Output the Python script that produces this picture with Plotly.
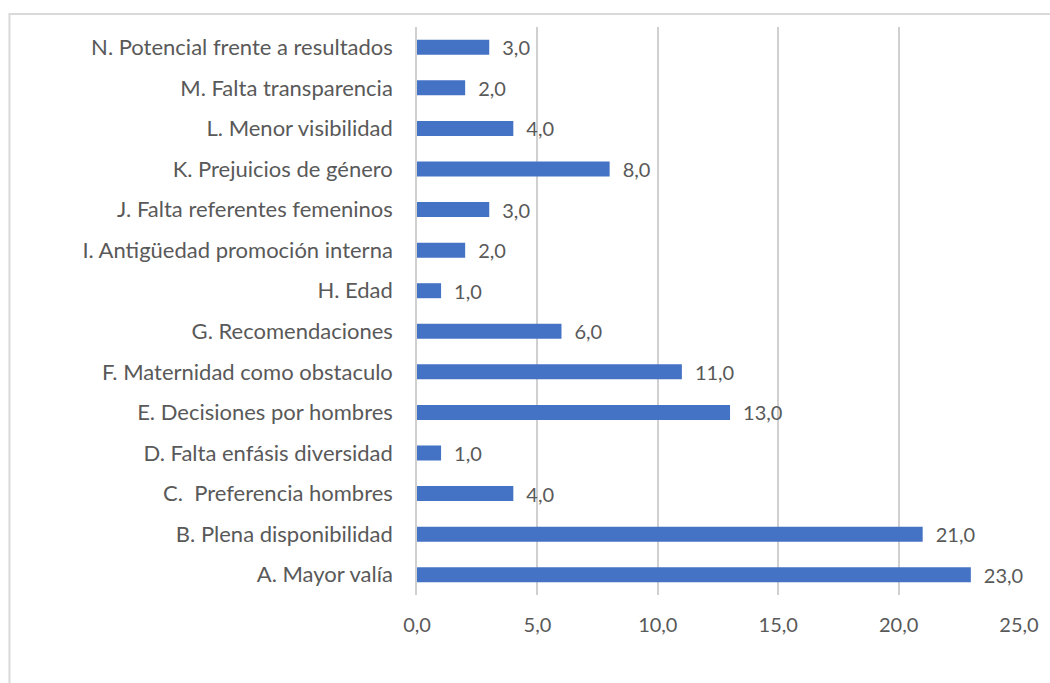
import plotly.graph_objects as go

categories = [
    "A. Mayor valía",
    "B. Plena disponibilidad",
    "C.  Preferencia hombres",
    "D. Falta enfásis diversidad",
    "E. Decisiones por hombres",
    "F. Maternidad como obstaculo",
    "G. Recomendaciones",
    "H. Edad",
    "I. Antigüedad promoción interna",
    "J. Falta referentes femeninos",
    "K. Prejuicios de género",
    "L. Menor visibilidad",
    "M. Falta transparencia",
    "N. Potencial frente a resultados",
]
values = [23, 21, 4, 1, 13, 11, 6, 1, 2, 3, 8, 4, 2, 3]
tick_vals = [0, 5, 10, 15, 20, 25]

FONT = "Lato"
GREY = "#595959"

fig = go.Figure(
    go.Bar(
        y=categories,
        x=values,
        orientation="h",
        marker=dict(color="#4472C4", line=dict(width=0)),
        text=["\u2002" + f"{v:.1f}".replace(".", ",") for v in values],
        textposition="outside",
        constraintext="none",
        textfont=dict(family=FONT, size=20, color=GREY),
        cliponaxis=False,
    )
)

fig.update_layout(
    width=1050,
    height=683,
    margin=dict(l=417, r=31, t=27, b=88),
    paper_bgcolor="white",
    plot_bgcolor="white",
    bargap=0.63,
    showlegend=False,
    separators=",.",
    font=dict(family=FONT, size=20, color=GREY),
    xaxis=dict(
        range=[0, 25],
        tickvals=tick_vals,
        ticktext=[f"{v:.1f}".replace(".", ",") for v in tick_vals],
        showgrid=True,
        gridcolor="#d0d0d0",
        gridwidth=1.5,
        zeroline=False,
        showline=False,
        ticks="",
        ticklabelstandoff=16,
        tickfont=dict(family=FONT, size=20, color=GREY),
        fixedrange=True,
    ),
    yaxis=dict(
        categoryorder="array",
        categoryarray=categories,
        showgrid=False,
        zeroline=False,
        showline=True,
        linecolor="#d0d0d0",
        linewidth=1.5,
        ticks="",
        ticklabelstandoff=18,
        tickfont=dict(family=FONT, size=22, color=GREY),
        fixedrange=True,
    ),
    shapes=[
        dict(
            type="rect",
            xref="paper",
            yref="paper",
            x0=-0.677,
            x1=1.2,
            y0=-0.3,
            y1=1.023,
            line=dict(color="#d9d9d9", width=2),
            fillcolor="rgba(0,0,0,0)",
            layer="below",
        )
    ],
)

fig.write_html("out.html")
